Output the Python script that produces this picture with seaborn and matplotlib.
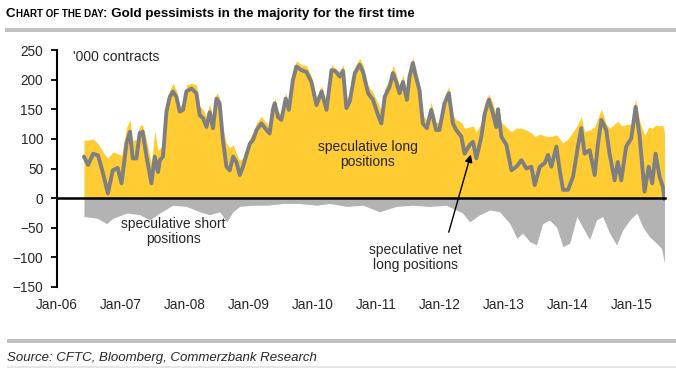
import matplotlib
matplotlib.use('Agg')
import matplotlib.pyplot as plt
import matplotlib.dates as mdates
from matplotlib.patches import Rectangle
import pandas as pd
import seaborn as sns

# speculative net long positions ('000 contracts)
net_dates = ['2006-06-04', '2006-06-28', '2006-07-27', '2006-08-24', '2006-09-21', '2006-10-19', '2006-11-16', '2006-12-14',
             '2007-01-05', '2007-02-03', '2007-02-22', '2007-03-10', '2007-03-31', '2007-04-19', '2007-05-06', '2007-05-27',
             '2007-06-25', '2007-07-14', '2007-08-02', '2007-08-12', '2007-08-30', '2007-09-19', '2007-10-08', '2007-10-26',
             '2007-11-15', '2007-12-04', '2007-12-23', '2008-01-11', '2008-02-09', '2008-03-08', '2008-03-27', '2008-04-15',
             '2008-05-05', '2008-05-23', '2008-06-11', '2008-07-01', '2008-07-19', '2008-08-07', '2008-08-27', '2008-09-15',
             '2008-10-04', '2008-10-23', '2008-11-11', '2008-11-30', '2008-12-19', '2009-01-08', '2009-01-26', '2009-02-15',
             '2009-03-15', '2009-04-13', '2009-05-01', '2009-05-20', '2009-05-30', '2009-06-18', '2009-07-07', '2009-08-01',
             '2009-08-19', '2009-09-11', '2009-10-01', '2009-10-29', '2009-11-27', '2009-12-26', '2010-01-24', '2010-02-22',
             '2010-03-22', '2010-04-20', '2010-05-10', '2010-06-06', '2010-06-25', '2010-07-14', '2010-08-02', '2010-08-31',
             '2010-09-28', '2010-10-17', '2010-11-15', '2010-12-13', '2011-01-11', '2011-01-30', '2011-02-18', '2011-03-18',
             '2011-04-06', '2011-04-25', '2011-05-14', '2011-06-02', '2011-06-25', '2011-07-10', '2011-07-29', '2011-08-13',
             '2011-09-05', '2011-09-24', '2011-10-17', '2011-11-11', '2011-12-09', '2011-12-28', '2012-01-26', '2012-02-20',
             '2012-03-14', '2012-04-02', '2012-05-01', '2012-05-20', '2012-06-18', '2012-07-07', '2012-07-26', '2012-08-24',
             '2012-09-12', '2012-10-06', '2012-10-29', '2012-11-17', '2012-11-27', '2012-12-16', '2013-01-14', '2013-02-12',
             '2013-03-12', '2013-04-10', '2013-05-08', '2013-06-06', '2013-06-25', '2013-07-24', '2013-08-21', '2013-09-09',
             '2013-09-28', '2013-10-27', '2013-11-15', '2013-12-04', '2014-01-01', '2014-01-30', '2014-02-27', '2014-03-18',
             '2014-04-06', '2014-05-05', '2014-06-03', '2014-06-21', '2014-07-11', '2014-08-08', '2014-08-27', '2014-09-25',
             '2014-10-13', '2014-11-02', '2014-11-30', '2014-12-29', '2015-01-23', '2015-02-15', '2015-03-15', '2015-04-08',
             '2015-04-28', '2015-05-17', '2015-06-09', '2015-06-28', '2015-07-07']
net_vals = [70, 56, 75, 72, 42, 8, 47, 51,
            25, 93, 112, 67, 67, 110, 112, 72,
            25, 70, 44, 64, 70, 146, 171, 180,
            171, 146, 149, 180, 185, 177, 140, 135,
            120, 145, 118, 168, 160, 98, 53, 47,
            70, 61, 39, 53, 73, 92, 98, 115,
            126, 115, 109, 150, 160, 137, 132, 168,
            149, 199, 222, 216, 213, 196, 157, 180,
            149, 216, 215, 205, 215, 152, 163, 211,
            225, 213, 177, 166, 140, 126, 171, 188,
            211, 196, 177, 196, 166, 205, 228, 208,
            182, 126, 118, 149, 115, 115, 160, 177,
            126, 115, 104, 75, 90, 95, 67, 104,
            143, 166, 143, 120, 150, 104, 90, 47,
            53, 64, 50, 53, 22, 53, 59, 73,
            53, 87, 47, 14, 14, 36, 87, 118,
            75, 81, 39, 90, 132, 115, 75, 30,
            61, 30, 87, 101, 154, 104, 11, 53,
            25, 75, 36, 19, -2]

# speculative long positions
long_dates = ['2006-06-04', '2006-06-28', '2006-07-27', '2006-08-24', '2006-09-21', '2006-10-19', '2006-11-16', '2006-12-14',
              '2007-01-05', '2007-02-03', '2007-02-22', '2007-03-10', '2007-03-31', '2007-04-19', '2007-05-06', '2007-05-27',
              '2007-06-25', '2007-07-14', '2007-08-02', '2007-08-30', '2007-09-19', '2007-10-08', '2007-10-26', '2007-11-15',
              '2007-12-04', '2007-12-23', '2008-01-11', '2008-02-09', '2008-03-08', '2008-03-27', '2008-04-15', '2008-05-05',
              '2008-05-23', '2008-06-11', '2008-07-01', '2008-07-19', '2008-08-07', '2008-08-27', '2008-09-15', '2008-10-04',
              '2008-10-23', '2008-11-11', '2008-11-30', '2008-12-19', '2009-01-08', '2009-01-26', '2009-02-15', '2009-03-15',
              '2009-04-13', '2009-05-01', '2009-05-30', '2009-06-18', '2009-07-07', '2009-08-01', '2009-08-19', '2009-09-11',
              '2009-10-01', '2009-10-29', '2009-11-27', '2009-12-26', '2010-01-24', '2010-02-22', '2010-03-22', '2010-04-20',
              '2010-05-18', '2010-06-06', '2010-06-25', '2010-07-14', '2010-08-02', '2010-08-31', '2010-09-28', '2010-10-17',
              '2010-11-15', '2010-12-13', '2011-01-11', '2011-01-30', '2011-02-18', '2011-03-18', '2011-04-06', '2011-04-25',
              '2011-05-14', '2011-06-02', '2011-06-25', '2011-07-10', '2011-07-29', '2011-08-13', '2011-09-05', '2011-09-24',
              '2011-10-17', '2011-11-11', '2011-12-09', '2011-12-28', '2012-01-26', '2012-02-20', '2012-03-14', '2012-04-02',
              '2012-05-01', '2012-05-20', '2012-06-18', '2012-07-07', '2012-07-26', '2012-08-24', '2012-09-12', '2012-10-06',
              '2012-10-29', '2012-11-17', '2012-11-27', '2012-12-16', '2013-01-14', '2013-02-12', '2013-03-12', '2013-04-10',
              '2013-05-08', '2013-06-06', '2013-06-25', '2013-07-24', '2013-08-21', '2013-09-09', '2013-09-28', '2013-10-27',
              '2013-11-15', '2013-12-04', '2014-01-01', '2014-01-30', '2014-02-27', '2014-03-18', '2014-04-06', '2014-05-05',
              '2014-06-03', '2014-06-21', '2014-07-11', '2014-08-08', '2014-08-27', '2014-09-25', '2014-10-13', '2014-11-02',
              '2014-11-30', '2014-12-29', '2015-01-23', '2015-02-15', '2015-03-15', '2015-04-08', '2015-04-28', '2015-05-17',
              '2015-06-09', '2015-06-28', '2015-07-07']
long_vals = [98, 98, 100, 92, 78, 67, 78, 75,
             72, 120, 132, 98, 98, 123, 123, 98,
             59, 113, 80, 90, 154, 182, 194, 182,
             155, 160, 191, 194, 191, 155, 150, 137,
             160, 135, 178, 170, 115, 92, 85, 90,
             75, 64, 68, 85, 102, 110, 127, 138,
             127, 120, 170, 147, 141, 178, 158, 208,
             232, 225, 224, 206, 170, 190, 160, 226,
             216, 214, 226, 166, 176, 222, 236, 225,
             190, 178, 160, 148, 185, 200, 224, 210,
             190, 208, 178, 218, 238, 220, 195, 140,
             132, 162, 128, 128, 172, 188, 140, 132,
             128, 118, 120, 122, 112, 128, 160, 176,
             160, 140, 155, 128, 120, 112, 118, 118,
             115, 110, 104, 108, 105, 104, 104, 107,
             100, 93, 100, 112, 125, 138, 112, 115,
             120, 135, 150, 125, 118, 125, 130, 122,
             124, 125, 168, 130, 106, 120, 118, 123,
             122, 123, 110]

# speculative short positions
short_dates = ['2006-06-04', '2006-08-18', '2006-10-12', '2006-11-16', '2007-02-06', '2007-04-19', '2007-06-15', '2007-08-12',
               '2007-10-25', '2008-01-11', '2008-03-27', '2008-05-23', '2008-07-19', '2008-08-29', '2008-10-03', '2008-11-11',
               '2009-01-26', '2009-04-15', '2009-07-17', '2009-10-19', '2010-01-25', '2010-04-10', '2010-07-16', '2010-10-17',
               '2011-01-19', '2011-04-25', '2011-07-27', '2011-11-02', '2012-02-05', '2012-05-08', '2012-06-18', '2012-08-14',
               '2012-10-12', '2012-12-06', '2013-02-03', '2013-03-15', '2013-04-16', '2013-05-27', '2013-07-05', '2013-08-09',
               '2013-09-18', '2013-10-28', '2013-12-03', '2014-01-11', '2014-02-21', '2014-03-26', '2014-05-05', '2014-06-13',
               '2014-07-18', '2014-08-27', '2014-10-06', '2014-11-10', '2014-12-20', '2015-01-30', '2015-03-05', '2015-04-12',
               '2015-05-22', '2015-06-20', '2015-07-07']
short_vals = [-31, -34, -43, -34, -25, -28, -37, -25,
              -12, -14, -23, -28, -23, -40, -23, -14,
              -12, -12, -9, -9, -12, -9, -14, -12,
              -23, -14, -12, -14, -12, -25, -40, -28,
              -20, -23, -43, -68, -59, -73, -79, -43,
              -37, -49, -82, -76, -31, -49, -70, -37,
              -31, -59, -79, -54, -37, -25, -49, -65,
              -76, -85, -110]

year_ticks = ['2006', '2007', '2008', '2009', '2010', '2011', '2012', '2013', '2014', '2015']

net_df = pd.DataFrame({'date': pd.to_datetime(net_dates), 'val': net_vals})
long_df = pd.DataFrame({'date': pd.to_datetime(long_dates), 'val': long_vals})
short_df = pd.DataFrame({'date': pd.to_datetime(short_dates), 'val': short_vals})

sns.set_theme(style='white')
plt.rcParams['font.family'] = ['Liberation Sans', 'DejaVu Sans']

W, H = 676, 368
fig = plt.figure(figsize=(W / 100, H / 100), dpi=100)
ax = fig.add_axes([57 / W, 1 - 287 / H, (665 - 57) / W, (287 - 50) / H])

ax.fill_between(long_df['date'], 0, long_df['val'], color='#FFCC33', lw=0, zorder=1)
ax.fill_between(short_df['date'], 0, short_df['val'], color='#B3B3B3', lw=0, zorder=1)
sns.lineplot(data=net_df, x='date', y='val', color='#7F7F7F', lw=2.8, ax=ax, zorder=3)

ax.set_xlim(pd.Timestamp('2006-01-01'), pd.Timestamp('2015-07-10'))
ax.set_ylim(-150, 250)
ax.set_yticks(range(-150, 251, 50))
ax.set_xticks(pd.to_datetime([y + '-01-01' for y in year_ticks]))
ax.xaxis.set_major_formatter(mdates.DateFormatter('%b-%y'))
ax.set_xlabel('')
ax.set_ylabel('')

for s in ['top', 'right']:
    ax.spines[s].set_visible(False)
ax.spines['left'].set_color('black')
ax.spines['left'].set_linewidth(1.5)
ax.spines['bottom'].set_position(('data', 0))
ax.spines['bottom'].set_color('black')
ax.spines['bottom'].set_linewidth(1.8)
ax.spines['bottom'].set_zorder(4)
ax.tick_params(axis='y', direction='out', length=4, width=1.3, color='black',
               labelsize=9.8, pad=6, left=True)
ax.tick_params(axis='x', direction='out', length=3, width=1.3, color='black',
               labelsize=9.8, pad=69, bottom=True)

ax.text(0.026, 0.972, "'000 contracts", transform=ax.transAxes, fontsize=10, va='center')
ax.text(pd.Timestamp('2010-11-13'), 73, 'speculative long\npositions', fontsize=10,
        ha='center', va='center', linespacing=1.1, zorder=5)
ax.text(pd.Timestamp('2007-10-27'), -57, 'speculative short\npositions', fontsize=10,
        ha='center', va='center', linespacing=1.1, zorder=5)
ax.text(pd.Timestamp('2011-08-14'), -100, 'speculative net\nlong positions', fontsize=10,
        ha='center', va='center', linespacing=1.1, zorder=5)
ax.annotate('', xy=(pd.Timestamp('2012-06-29'), 78), xytext=(pd.Timestamp('2012-02-15'), -62),
            arrowprops=dict(arrowstyle='-|>', color='black', lw=1, mutation_scale=11), zorder=6)

# title with small caps prefix
renderer = fig.canvas.get_renderer()
ty = 1 - 17.3 / H
x0 = 6 / W
parts = [('C', 9.6), ('HART OF THE DAY', 7.0), (': Gold pessimists in the majority for the first time', 9.6)]
for txt, sz in parts:
    t = fig.text(x0, ty, txt, fontsize=sz, fontweight='bold', color='#000000', va='baseline')
    bb = t.get_window_extent(renderer=renderer)
    x0 = bb.x1 / W

fig.add_artist(Rectangle((5 / W, 1 - 32 / H), 1, 4 / H, transform=fig.transFigure, color='#C0C0C0', lw=0))
fig.add_artist(Rectangle((7 / W, 1 - 343 / H), 1, 4 / H, transform=fig.transFigure, color='#C0C0C0', lw=0))
fig.add_artist(Rectangle((7 / W, 0), 1, 2 / H, transform=fig.transFigure, color='#E6E6E6', lw=0))
fig.text(7 / W, 1 - 361.5 / H, 'Source: CFTC, Bloomberg, Commerzbank Research', fontsize=9.5,
         style='italic', va='baseline')

fig.savefig('out.png', dpi=100)
